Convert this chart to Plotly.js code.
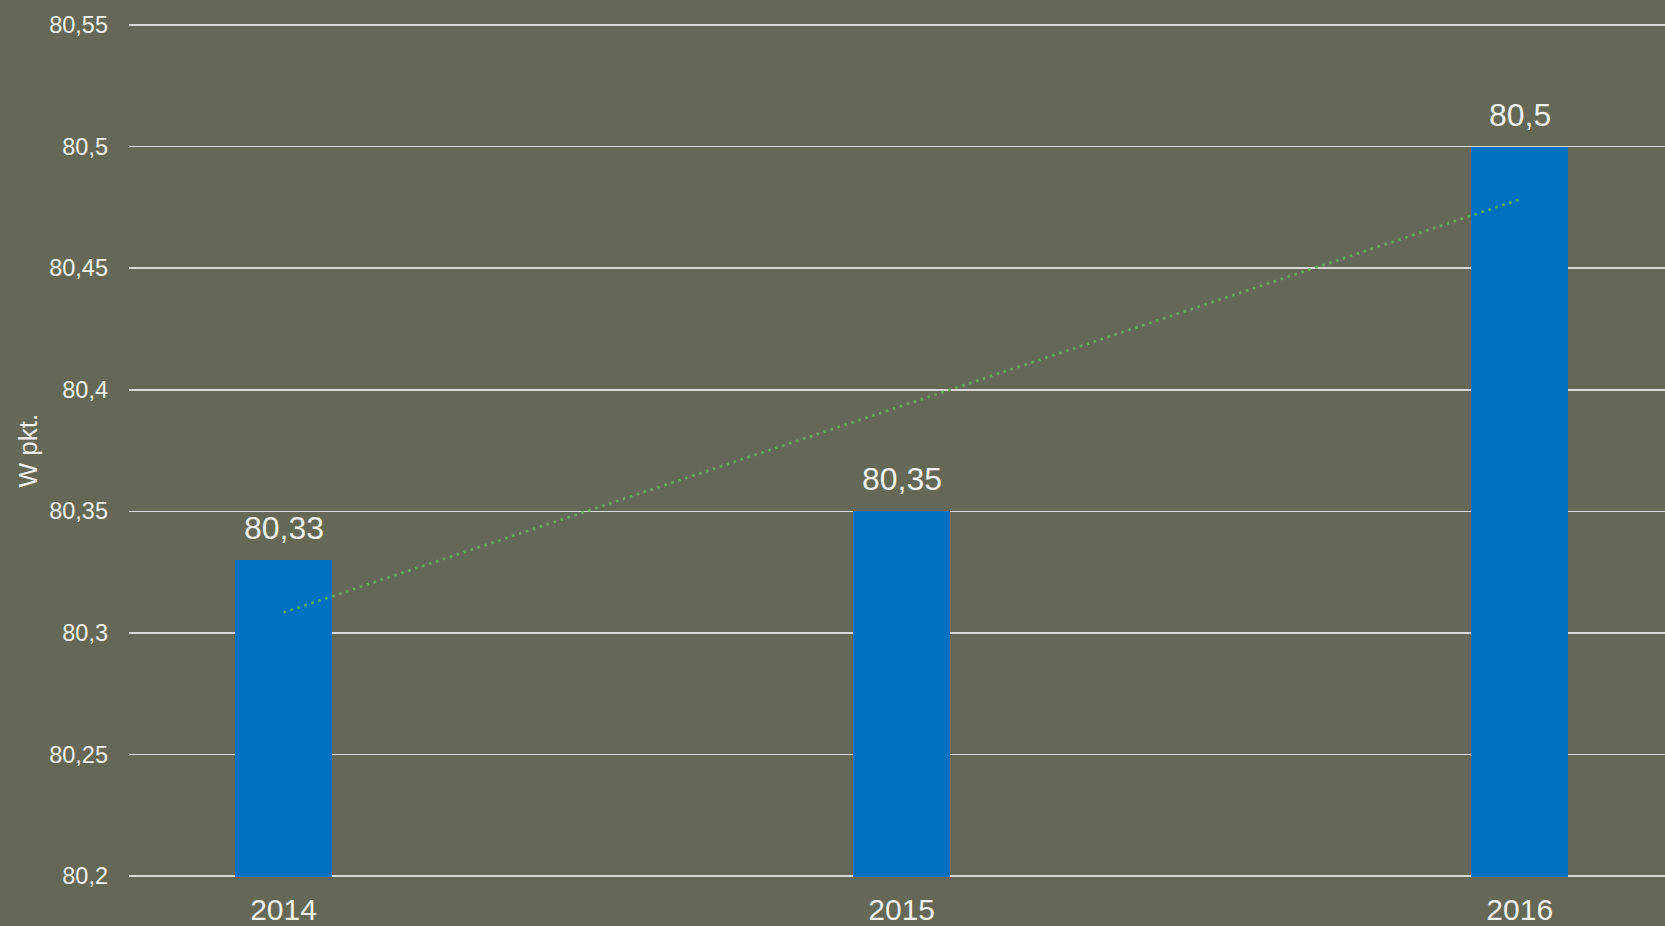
<!DOCTYPE html>
<html>
<head>
<meta charset="utf-8">
<script src="https://cdn.plot.ly/plotly-3.0.1.min.js"></script>
<style>
html,body{margin:0;padding:0;background:#666857;}
#chart{width:1665px;height:926px;}
</style>
</head>
<body>
<div id="chart"></div>
<script>
var years = ['2014', '2015', '2016'];
var values = [80.33, 80.35, 80.5];
var tickVals = [80.2, 80.25, 80.3, 80.35, 80.4, 80.45, 80.5, 80.55];
var tickText = ['80,2', '80,25', '80,3', '80,35', '80,4', '80,45', '80,5', '80,55'];
var yTitle = 'W pkt.';

function fmt(v){ return String(v).replace('.', ','); }

// linear trend (least squares) over category index
var n = values.length, sx = 0, sy = 0, sxy = 0, sxx = 0;
for (var i = 0; i < n; i++) { sx += i; sy += values[i]; sxy += i * values[i]; sxx += i * i; }
var slope = (n * sxy - sx * sy) / (n * sxx - sx * sx);
var intercept = (sy - slope * sx) / n;
var trend = values.map(function(_, i){ return intercept + slope * i; });

var bg = '#666857';
var txt = '#f2f2f2';
var font = 'Liberation Sans, Arial, sans-serif';

var traces = [
  {
    type: 'bar', x: [0,1,2], y: values,
    marker: {color: '#0070c0'}, width: 0.157,
    hoverinfo: 'none'
  },
  {
    type: 'scatter', mode: 'lines', x: [0,1,2], y: trend,
    line: {color: '#5fae5c', width: 2.7, dash: '2.7px,4.6px'},
    hoverinfo: 'none'
  }
];

var annotations = values.map(function(v, i){
  return {x: i, y: v, xref: 'x', yref: 'y', text: fmt(v), showarrow: false,
    yanchor: 'bottom', yshift: 12, font: {family: font, size: 32, color: txt}};
});
annotations.push({
  xref: 'paper', yref: 'paper', x: 0, y: 0.5, xanchor: 'center', yanchor: 'middle',
  xshift: -102, textangle: -90, showarrow: false, text: yTitle,
  font: {family: font, size: 26, color: txt}
});

var layout = {
  width: 1665, height: 926,
  paper_bgcolor: bg, plot_bgcolor: bg,
  margin: {l: 129, r: 0, t: 24, b: 49},
  showlegend: false,
  bargap: 0,
  xaxis: {
    range: [-0.25, 2.235],
    tickvals: [0,1,2], ticktext: years,
    showgrid: false, zeroline: false,
    showline: false, ticks: '',
    tickfont: {family: font, size: 30, color: txt},
    ticklabelstandoff: 12
  },
  yaxis: {
    range: [80.1995, 80.5505],
    tickvals: tickVals, ticktext: tickText,
    showgrid: true, gridcolor: '#d9d9d9', gridwidth: 1.5,
    zeroline: false, showline: false, ticks: '',
    tickfont: {family: font, size: 23.5, color: txt},
    ticklabelstandoff: 20
  },
  annotations: annotations
};

Plotly.newPlot('chart', traces, layout, {displayModeBar: false, staticPlot: true});
</script>
</body>
</html>
